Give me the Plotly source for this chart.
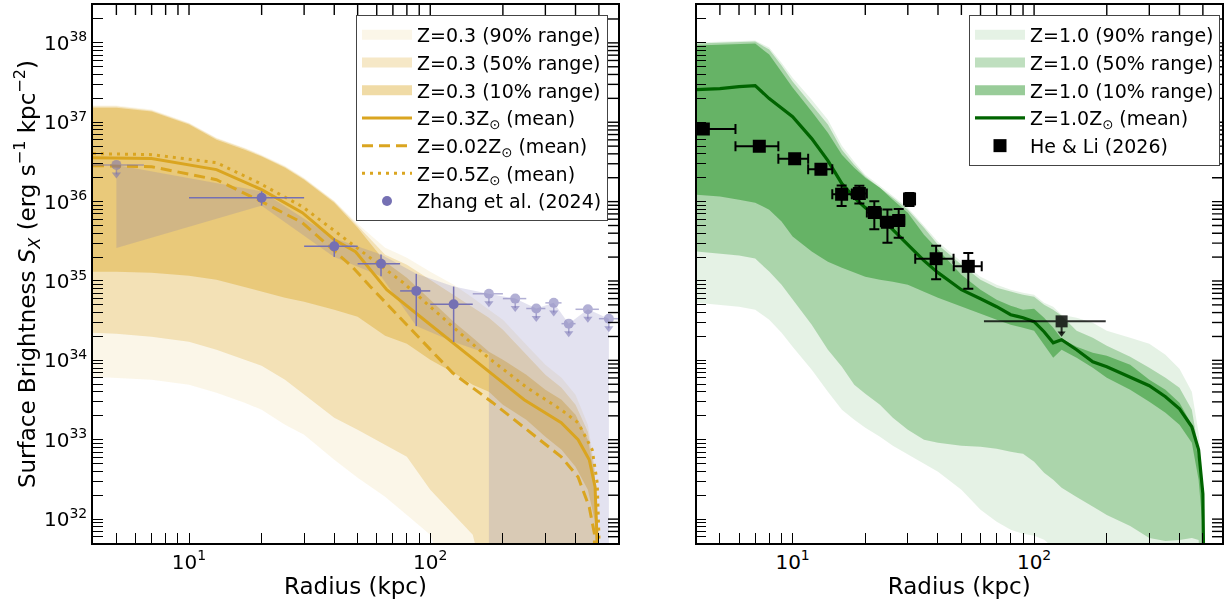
import numpy as np
import plotly.graph_objects as go

# ======================= DATA =======================
# ---- Left panel: Z = 0.3 percentile bands (log10 S_X) ----
r_left = [4, 5, 7, 10, 13, 17, 20, 25, 30, 40, 50, 65, 80, 100, 125, 150, 175, 200,
          250, 300, 350, 400, 450, 480, 495]
z03_p90_hi = [37.21, 37.21, 37.159, 36.995, 36.806, 36.68, 36.592, 36.453, 36.302, 36.012,
              35.722, 35.42, 35.294, 35.117, 34.953, 34.789, 34.638, 34.512, 34.197, 33.945,
              33.781, 33.567, 33.189, 32.685, 31.0]
z03_p90_lo = [33.793, 33.781, 33.756, 33.693, 33.592, 33.466, 33.378, 33.189, 33.063, 32.748,
              32.521, 32.282, 32.055, 31.803, 31.0, 31.0, 31.0, 31.0, 31.0, 31.0,
              31.0, 31.0, 31.0, 31.0, 31.0]
z03_p50_hi = [37.197, 37.197, 37.147, 36.983, 36.794, 36.668, 36.579, 36.44, 36.289, 36.0,
              35.697, 35.33, 35.206, 35.017, 34.827, 34.663, 34.537, 34.386, 34.071, 33.819,
              33.655, 33.441, 33.1, 32.622, 31.0]
z03_p50_lo = [34.348, 34.335, 34.297, 34.234, 34.134, 34.008, 33.932, 33.756, 33.567, 33.277,
              33.126, 32.937, 32.786, 32.37, 32.055, 31.803, 31.0, 31.0, 31.0, 31.0,
              31.0, 31.0, 31.0, 31.0, 31.0]
z03_p10_hi = [37.184, 37.184, 37.134, 36.97, 36.781, 36.655, 36.567, 36.428, 36.277, 35.987,
              35.672, 35.242, 35.04, 34.764, 34.487, 34.285, 34.109, 34.008, 33.819, 33.63,
              33.504, 33.315, 33.0, 32.558, 31.0]
z03_p10_lo = [35.117, 35.117, 35.105, 35.067, 35.016, 34.928, 34.865, 34.789, 34.739, 34.638,
              34.55, 34.31, 34.209, 34.008, 33.844, 33.693, 33.605, 33.441, 33.252, 33.038,
              32.874, 32.66, 32.37, 31.992, 31.0]

# ---- Left panel: mean profiles (log10 S_X) ----
r_mean_z03 = [4, 7, 13, 20, 29.5, 40, 49, 66, 91, 124, 172, 245, 349, 410, 456, 482, 492, 494]
mean_z03 = [36.554, 36.542, 36.403, 36.151, 35.861, 35.52, 35.369, 34.89, 34.55, 34.222,
            33.882, 33.504, 33.214, 33.0, 32.748, 32.408, 31.70, 30.0]
r_mean_z002 = [4, 7, 13, 20, 29.5, 47.5, 56.5, 91, 124, 181, 252, 349, 410, 456, 479, 482]
mean_z002 = [36.453, 36.44, 36.276, 35.999, 35.735, 35.18, 34.928, 34.26, 33.84, 33.47,
             33.126, 32.785, 32.53, 32.15, 31.82, 30.0]
r_mean_z05 = [4, 7, 13, 19.4, 29.5, 48.9, 77.3, 124, 172, 252, 349, 410, 469, 492, 501, 503]
mean_z05 = [36.605, 36.592, 36.491, 36.239, 35.937, 35.432, 34.978, 34.424, 34.046, 33.655,
            33.378, 33.214, 32.874, 32.458, 31.70, 30.0]

# ---- Zhang et al. (2024) ----
zh_r = [20, 40, 62.5, 87.5, 125]
zh_xerr = [10, 10, 12.5, 12.5, 25]
zh_y = [1.12e36, 2.73e35, 1.65e35, 7.5e34, 5.1e34]
zh_yerr = [2.3e35, 7.2e34, 5.0e34, 4.8e34, 3.4e34]
zh_ul_r = [5, 175, 225, 275, 325, 375, 450, 550]
zh_ul_xlo = [2, 25, 25, 25, 25, 25, 50, 50]
zh_ul_xhi = [1.5, 25, 25, 25, 25, 25, 50, 50]
zh_ul_y = [2.9e36, 6.9e34, 6.0e34, 4.5e34, 5.3e34, 2.9e34, 4.4e34, 3.35e34]
# shaded Zhang range
zh_band_r = [5, 20, 40, 62.5, 87.5, 125, 175, 175, 225, 275, 325, 375, 450, 550]
zh_band_hi = [2.9e36, 1.35e36, 3.45e35, 2.15e35, 1.23e35, 8.5e34, 6.9e34, 6.9e34, 6.0e34,
              4.5e34, 5.3e34, 2.9e34, 4.4e34, 3.35e34]
zh_band_lo = [2.6e35, 8.9e35, 2.0e35, 1.15e35, 2.7e34, 1.7e34, 1.2e34, 1e30, 1e30,
              1e30, 1e30, 1e30, 1e30, 1e30]

# ---- Right panel: Z = 1.0 percentile bands (log10 S_X) ----
r_right = [4, 5, 6, 7, 8, 9, 10, 12, 14, 16, 18, 20, 23, 26, 30, 35, 40, 50, 60, 70, 80, 90,
           100, 110, 120, 130, 150, 175, 200, 250, 300, 350, 400, 450, 480, 500, 510]
z10_p90_hi = [38.004, 38.016, 38.029, 38.029, 37.941, 37.75, 37.561, 37.284, 37.032, 36.704,
              36.502, 36.338, 36.2, 36.074, 35.922, 35.695, 35.494, 35.242, 35.053, 34.952,
              34.889, 34.851, 34.826, 34.725, 34.675, 34.574, 34.536, 34.473, 34.372, 34.284,
              34.208, 34.07, 33.893, 33.603, 33.086, 32.456, 31.0]
z10_p90_lo = [34.726, 34.7, 34.675, 34.638, 34.512, 34.348, 34.171, 33.882, 33.605, 33.378,
              33.252, 33.151, 33.038, 32.924, 32.811, 32.698, 32.597, 32.37, 32.118, 31.966,
              31.866, 31.815, 31.79, 31.74, 31.64, 31.55, 31.0, 31.0, 31.0, 31.0,
              31.0, 31.0, 31.0, 31.0, 31.0, 31.0, 31.0]
z10_p50_hi = [37.991, 38.004, 38.016, 38.016, 37.916, 37.714, 37.512, 37.222, 36.97, 36.655,
              36.466, 36.315, 36.176, 36.05, 35.899, 35.672, 35.458, 35.206, 35.017, 34.916,
              34.866, 34.826, 34.801, 34.7, 34.638, 34.562, 34.372, 34.284, 34.183, 34.045,
              33.906, 33.78, 33.654, 33.377, 32.873, 32.306, 31.0]
z10_p50_lo = [35.37, 35.345, 35.32, 35.282, 35.118, 34.954, 34.764, 34.449, 34.134, 33.92,
              33.693, 33.579, 33.441, 33.277, 33.126, 33.0, 32.961, 32.924, 32.911, 32.886,
              32.848, 32.823, 32.722, 32.583, 32.495, 32.394, 32.28, 32.154, 32.053, 31.914,
              31.763, 31.725, 31.738, 31.763, 31.738, 31.0, 31.0]
z10_p10_hi = [37.966, 37.979, 37.991, 37.991, 37.853, 37.639, 37.437, 37.134, 36.869, 36.592,
              36.428, 36.302, 36.176, 36.025, 35.861, 35.584, 35.395, 35.08, 34.889, 34.763,
              34.688, 34.638, 34.65, 34.536, 34.41, 34.272, 34.171, 34.095, 34.057, 33.944,
              33.755, 33.629, 33.465, 33.188, 32.747, 32.243, 31.0]
z10_p10_lo = [36.088, 36.063, 36.025, 35.987, 35.899, 35.748, 35.559, 35.37, 35.243, 35.167,
              35.104, 35.054, 35.016, 34.991, 34.953, 34.865, 34.789, 34.676, 34.588, 34.512,
              34.449, 34.411, 34.373, 34.197, 34.033, 34.134, 34.033, 33.907, 33.781, 33.63,
              33.478, 33.339, 33.188, 32.961, 32.495, 31.865, 31.0]
mean_z10 = [37.411, 37.424, 37.449, 37.462, 37.298, 37.184, 37.071, 36.794, 36.516, 36.226,
            36.05, 35.924, 35.798, 35.647, 35.458, 35.256, 35.105, 34.89, 34.777, 34.676,
            34.575, 34.537, 34.487, 34.361, 34.222, 34.26, 34.134, 33.983, 33.92, 33.793,
            33.68, 33.541, 33.39, 33.163, 32.874, 32.319, 30.0]

# ---- He & Li (2026) ----
hl_r = [4.27, 7.28, 10.2, 13.1, 15.96, 18.9, 21.8, 24.7, 27.5, 30.5, 39.3, 53.4]
hl_xlo = [1.5, 1.48, 1.47, 1.5, 1.36, 1.3, 1.5, 1.5, 1.4, 1.5, 7.1, 6.9]
hl_xhi = [1.53, 1.45, 1.4, 1.5, 1.64, 1.4, 1.4, 1.4, 1.5, 1.5, 7.1, 7.3]
hl_y = [8.2e36, 4.98e36, 3.48e36, 2.55e36, 1.24e36, 1.27e36, 7.3e35, 5.5e35, 5.8e35,
        1.08e36, 1.91e35, 1.53e35]
hl_yerr = [5e35, 3e35, 2e35, 1.5e35, 3.6e35, 3.2e35, 2.8e35, 2.46e35, 2.3e35, 2.0e35,
           8.6e34, 7.3e34]
hl_ul_r = [130]
hl_ul_xerr = [68]
hl_ul_y = [3.1e34]

# ---- ticks ----
x_tick_vals = [10, 100]
x_tick_text = ["10<sup>1</sup>", "10<sup>2</sup>"]
y_tick_vals = [1e32, 1e33, 1e34, 1e35, 1e36, 1e37, 1e38]
y_tick_text = ["10<sup>%d</sup>" % k for k in range(32, 39)]
x_minor = [float(m) * 10.0 ** k for k in range(0, 3) for m in range(2, 10)]
y_minor = [float(m) * 10.0 ** k for k in range(31, 39) for m in range(2, 10)]

# ======================= STYLE =======================
GOLD = "#DAA520"
GOLD_RGB = "218,165,32"
GREEN_RGB = "0,128,0"
DKGREEN = "#006400"
PURPLE = "#7570b3"
PURPLE_RGB = "117,112,179"
FONT = "DejaVu Sans"
ALPHAS = (0.10, 0.25, 0.40)

L, R, T, B = 93, 3, 5, 56
W, H = 1225, 599
pw = W - L - R
ph = H - T - B
TICKLEN = 10
xr = [float(np.log10(4)), float(np.log10(600))]
yr = [float(np.log10(5e31)), float(np.log10(3e38))]
dom_left = [0, (618 - L) / pw]
dom_right = [(696.5 - L) / pw, 1]


def band_trace(r, lo_log, hi_log, color, xa, ya):
    xs = list(r) + list(r)[::-1]
    ys = [float(v) for v in 10 ** np.array(hi_log)] + [float(v) for v in (10 ** np.array(lo_log))[::-1]]
    return go.Scatter(x=xs, y=ys, mode="lines", fill="toself", fillcolor=color,
                      line=dict(width=0, color=color), showlegend=False,
                      xaxis=xa, yaxis=ya, hoverinfo="skip")


def legend_swatch(color, name, legend, xa, ya):
    return go.Scatter(x=[None], y=[None], mode="lines", line=dict(color=color, width=14),
                      name=name, legend=legend, xaxis=xa, yaxis=ya)


fig = go.Figure()

# ---------------- Left panel ----------------
left_bands = [(z03_p90_lo, z03_p90_hi, "Z=0.3 (90% range)"),
              (z03_p50_lo, z03_p50_hi, "Z=0.3 (50% range)"),
              (z03_p10_lo, z03_p10_hi, "Z=0.3 (10% range)")]
for (lo, hi, name), a in zip(left_bands, ALPHAS):
    col = "rgba(%s,%.2f)" % (GOLD_RGB, a)
    fig.add_trace(band_trace(r_left, lo, hi, col, "x", "y"))
for (lo, hi, name), a in zip(left_bands, ALPHAS):
    col = "rgba(%s,%.2f)" % (GOLD_RGB, a)
    fig.add_trace(legend_swatch(col, name, "legend", "x", "y"))

# Zhang shaded range
fig.add_trace(go.Scatter(x=list(zh_band_r) + list(zh_band_r)[::-1],
                         y=list(zh_band_hi) + list(zh_band_lo)[::-1],
                         mode="lines", fill="toself", fillcolor="rgba(%s,0.2)" % PURPLE_RGB,
                         line=dict(width=0), showlegend=False, hoverinfo="skip",
                         xaxis="x", yaxis="y"))
fig.add_trace(go.Scatter(x=r_mean_z03, y=10 ** np.array(mean_z03), mode="lines",
                         line=dict(color=GOLD, width=3), name="Z=0.3Z<sub>⊙</sub> (mean)",
                         xaxis="x", yaxis="y", legend="legend"))
fig.add_trace(go.Scatter(x=r_mean_z002, y=10 ** np.array(mean_z002), mode="lines",
                         line=dict(color=GOLD, width=3, dash="11px,6px"),
                         name="Z=0.02Z<sub>⊙</sub> (mean)", xaxis="x", yaxis="y",
                         legend="legend"))
fig.add_trace(go.Scatter(x=r_mean_z05, y=10 ** np.array(mean_z05), mode="lines",
                         line=dict(color=GOLD, width=3, dash="3px,5px"),
                         name="Z=0.5Z<sub>⊙</sub> (mean)", xaxis="x", yaxis="y",
                         legend="legend"))
# Zhang detections
fig.add_trace(go.Scatter(x=zh_r, y=zh_y, mode="markers",
                         marker=dict(color=PURPLE, size=10, symbol="circle"),
                         error_x=dict(type="data", array=zh_xerr, color=PURPLE, thickness=1.5, width=0),
                         error_y=dict(type="data", array=zh_yerr, color=PURPLE, thickness=1.5, width=0),
                         name="Zhang et al. (2024)", xaxis="x", yaxis="y", legend="legend"))
# Zhang upper limits
ul_arrow_len = [v * (1 - 10 ** -0.12) for v in zh_ul_y]
fig.add_trace(go.Scatter(x=zh_ul_r, y=zh_ul_y, mode="markers", opacity=0.55,
                         marker=dict(color=PURPLE, size=10, symbol="circle"),
                         error_x=dict(type="data", symmetric=False, array=zh_ul_xhi,
                                      arrayminus=zh_ul_xlo, color=PURPLE, thickness=1.5, width=0),
                         error_y=dict(type="data", symmetric=False, array=[0] * len(zh_ul_y),
                                      arrayminus=ul_arrow_len, color=PURPLE, thickness=1.5, width=0),
                         showlegend=False, xaxis="x", yaxis="y"))
fig.add_trace(go.Scatter(x=zh_ul_r, y=[v * 10 ** -0.12 for v in zh_ul_y], mode="markers",
                         opacity=0.55,
                         marker=dict(color=PURPLE, size=8, symbol="triangle-down"),
                         showlegend=False, xaxis="x", yaxis="y", hoverinfo="skip"))

# ---------------- Right panel ----------------
right_bands = [(z10_p90_lo, z10_p90_hi, "Z=1.0 (90% range)"),
               (z10_p50_lo, z10_p50_hi, "Z=1.0 (50% range)"),
               (z10_p10_lo, z10_p10_hi, "Z=1.0 (10% range)")]
for (lo, hi, name), a in zip(right_bands, ALPHAS):
    col = "rgba(%s,%.2f)" % (GREEN_RGB, a)
    fig.add_trace(band_trace(r_right, lo, hi, col, "x2", "y2"))
for (lo, hi, name), a in zip(right_bands, ALPHAS):
    col = "rgba(%s,%.2f)" % (GREEN_RGB, a)
    fig.add_trace(legend_swatch(col, name, "legend2", "x2", "y2"))
fig.add_trace(go.Scatter(x=r_right, y=10 ** np.array(mean_z10), mode="lines",
                         line=dict(color=DKGREEN, width=3.2), name="Z=1.0Z<sub>⊙</sub> (mean)",
                         xaxis="x2", yaxis="y2", legend="legend2"))
fig.add_trace(go.Scatter(x=hl_r, y=hl_y, mode="markers",
                         marker=dict(color="black", size=13, symbol="square"),
                         error_x=dict(type="data", symmetric=False, array=hl_xhi, arrayminus=hl_xlo,
                                      color="black", thickness=2, width=5),
                         error_y=dict(type="data", array=hl_yerr, color="black", thickness=2, width=5),
                         name="He &amp; Li (2026)", xaxis="x2", yaxis="y2", legend="legend2"))
hl_arrow_len = [v * (1 - 10 ** -0.15) for v in hl_ul_y]
fig.add_trace(go.Scatter(x=hl_ul_r, y=hl_ul_y, mode="markers", opacity=0.8,
                         marker=dict(color="black", size=12, symbol="square"),
                         error_x=dict(type="data", array=hl_ul_xerr, color="black", thickness=2, width=0),
                         error_y=dict(type="data", symmetric=False, array=[0],
                                      arrayminus=hl_arrow_len, color="black", thickness=2, width=0),
                         showlegend=False, xaxis="x2", yaxis="y2"))
fig.add_trace(go.Scatter(x=hl_ul_r, y=[v * 10 ** -0.15 for v in hl_ul_y], mode="markers",
                         opacity=0.8, marker=dict(color="black", size=7, symbol="triangle-down"),
                         showlegend=False, xaxis="x2", yaxis="y2", hoverinfo="skip"))

# ---- mirrored tick marks along the top and right frame edges (derived from tick values) ----
x_all_ticks = [v for v in list(x_tick_vals) + x_minor
               if 10 ** xr[0] * 1.001 < v < 10 ** xr[1] * 0.999]
y_all_ticks = [v for v in list(y_tick_vals) + y_minor
               if 10 ** yr[0] * 1.001 < v < 10 ** yr[1] * 0.999]
y_top = 10 ** yr[1]
y_top_in = 10 ** (yr[1] - TICKLEN * (yr[1] - yr[0]) / ph)
for xa, ya, dom in (("x", "y", dom_left), ("x2", "y2", dom_right)):
    panel_w = (dom[1] - dom[0]) * pw
    x_right = 10 ** xr[1]
    x_right_in = 10 ** (xr[1] - TICKLEN * (xr[1] - xr[0]) / panel_w)
    tx, ty = [], []
    for v in x_all_ticks:
        tx += [v, v, None]
        ty += [y_top, y_top_in, None]
    fig.add_trace(go.Scatter(x=tx, y=ty, mode="lines", line=dict(color="black", width=1.4),
                             showlegend=False, hoverinfo="skip", xaxis=xa, yaxis=ya))
    rx, ry = [], []
    for v in y_all_ticks:
        rx += [x_right, x_right_in, None]
        ry += [v, v, None]
    fig.add_trace(go.Scatter(x=rx, y=ry, mode="lines", line=dict(color="black", width=1.4),
                             showlegend=False, hoverinfo="skip", xaxis=xa, yaxis=ya))

# ======================= LAYOUT =======================
axis_common = dict(
    type="log", showline=True, linecolor="black", linewidth=1.5, mirror=True,
    ticks="inside", ticklen=TICKLEN, tickwidth=1.3, tickcolor="black", showgrid=False,
    zeroline=False, tickfont=dict(family=FONT, size=20, color="black"),
)
minor_common = dict(ticks="inside", ticklen=TICKLEN, tickwidth=1.1, tickcolor="black", showgrid=False)

x_common = dict(axis_common, range=xr, tickmode="array", tickvals=x_tick_vals, ticktext=x_tick_text,
                minor=dict(minor_common, tickmode="array", tickvals=x_minor))
y_common = dict(axis_common, range=yr, domain=[0, 1], tickmode="array", tickvals=y_tick_vals,
                ticktext=y_tick_text, minor=dict(minor_common, tickmode="array", tickvals=y_minor))
xtitle = dict(text="Radius (kpc)", font=dict(family=FONT, size=23, color="black"), standoff=3)

xaxis = dict(x_common, domain=dom_left, anchor="y", title=xtitle)
xaxis2 = dict(x_common, domain=dom_right, anchor="y2", title=xtitle)
yaxis = dict(y_common, anchor="x",
             title=dict(text="Surface Brightness <i>S<sub>X</sub></i> (erg s<sup>−1</sup> kpc<sup>−2</sup>)",
                        font=dict(family=FONT, size=23, color="black"), standoff=1))
yaxis2 = dict(y_common, anchor="x2", showticklabels=False)

legend_common = dict(font=dict(family=FONT, size=19, color="black"), bgcolor="white",
                     bordercolor="#444", borderwidth=1, yanchor="top", xanchor="right",
                     tracegroupgap=0, itemwidth=50, traceorder="normal")

fig.update_layout(
    width=W, height=H, margin=dict(l=L, r=R, t=T, b=B, autoexpand=False),
    paper_bgcolor="white", plot_bgcolor="white",
    font=dict(family=FONT, color="black"),
    xaxis=xaxis, xaxis2=xaxis2, yaxis=yaxis, yaxis2=yaxis2,
    legend=dict(legend_common, x=(608 - L) / pw, y=1 - (15 - T) / ph),
    legend2=dict(legend_common, x=(1220 - L) / pw, y=1 - (15 - T) / ph),
    showlegend=True,
)

fig.write_html("out.html", config={"displayModeBar": False},
               post_script="document.body.style.margin='0px';")
